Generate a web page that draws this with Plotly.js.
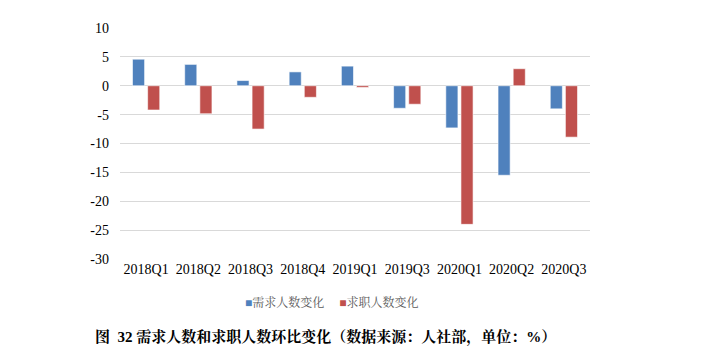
<!DOCTYPE html>
<html>
<head>
<meta charset="utf-8">
<script src="https://cdn.plot.ly/plotly-3.0.1.min.js"></script>
<style>html,body{margin:0;padding:0;background:#fff;}#chart{width:711px;height:362px;}</style>
</head>
<body>
<div id="chart"></div>
<script>
const categories = ["2018Q1","2018Q2","2018Q3","2018Q4","2019Q1","2019Q3","2020Q1","2020Q2","2020Q3"];
const demandChange = [4.6, 3.7, 0.9, 2.4, 3.4, -3.9, -7.3, -15.5, -4.0];
const seekerChange = [-4.2, -4.85, -7.5, -2.0, -0.3, -3.2, -24.0, 2.95, -8.9];
const seriesNames = ["需求人数变化", "求职人数变化"];
const seriesColors = ["#4F81BD", "#C0504D"];
const yTicks = [10, 5, 0, -5, -10, -15, -20, -25, -30];
const caption = "图  32 需求人数和求职人数环比变化（数据来源：人社部，单位：%）";

const serifCJK = '"Liberation Serif", "Noto Serif CJK SC", "Noto Sans CJK SC", serif';
const traces = [
  {type:'bar', name:seriesNames[0], x:categories, y:demandChange,
   marker:{color:seriesColors[0], line:{color:'rgba(255,255,255,0.6)', width:1}}},
  {type:'bar', name:seriesNames[1], x:categories, y:seekerChange,
   marker:{color:seriesColors[1], line:{color:'rgba(255,255,255,0.6)', width:1}}}
];
const legendText = seriesNames.map((n,i) =>
  "<span style='color:"+seriesColors[i]+"'>■</span>"+n).join("&nbsp;&nbsp;&nbsp;&nbsp;&nbsp;");
const layout = {
  width:711, height:362,
  margin:{l:120, r:121, t:28, b:103},
  paper_bgcolor:'#fff', plot_bgcolor:'#fff',
  barmode:'group', bargap:0.42, bargroupgap:0.2,
  showlegend:false,
  xaxis:{type:'category', showgrid:false, showline:false, zeroline:false, ticks:'',
         tickfont:{family:'"Liberation Serif", serif', size:14, color:'#000'}},
  yaxis:{range:[-30,10], tickvals:yTicks, ticktext:yTicks.map(String), showgrid:true,
         gridcolor:'#d9d9d9', gridwidth:1, zeroline:true, zerolinecolor:'#d9d9d9', zerolinewidth:1,
         showline:false, ticks:'', ticklabelstandoff:10,
         tickfont:{family:'"Liberation Serif", serif', size:14, color:'#000'}},
  annotations:[
    {text:legendText, xref:'paper', yref:'paper', x:(243-120)/470, y:-(302-259)/231,
     xanchor:'left', yanchor:'middle', showarrow:false,
     font:{family:serifCJK, size:12, color:'#595959'}},
    {text:'<b>'+caption+'</b>', xref:'paper', yref:'paper', x:-0.058, y:-0.338,
     xanchor:'left', yanchor:'middle', showarrow:false,
     font:{family:serifCJK, size:15, color:'#000'}}]
};
Plotly.newPlot('chart', traces, layout, {staticPlot:true, displayModeBar:false});
</script>
</body>
</html>
